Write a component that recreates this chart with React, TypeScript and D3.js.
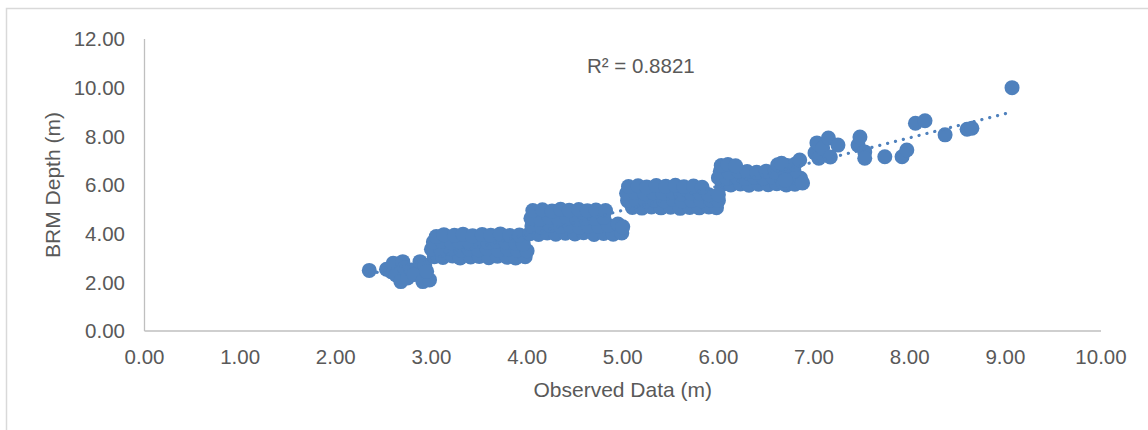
import React from 'react';
import * as d3 from 'd3';

const band2: [number, number][] = [
  [2.35, 2.49], [2.53, 2.54], [2.58, 2.44], [2.6, 2.78], [2.63, 2.3], [2.68, 2.03], [2.7, 2.85], [2.72, 2.6],
  [2.75, 2.18], [2.79, 2.51], [2.82, 2.32], [2.88, 2.85], [2.93, 2.71], [2.91, 2.03], [2.98, 2.1], [2.95, 2.45],
];
const band3: [number, number][] = [
  [3.03, 3.05], [3.12, 3.02], [3.22, 3.08], [3.3, 3.0], [3.41, 3.04], [3.5, 3.06], [3.6, 3.01], [3.69, 3.07], [3.79, 3.03], [3.88, 3.0], [3.98, 3.05],
  [3.0, 3.36], [3.1, 3.33], [3.2, 3.38], [3.31, 3.32], [3.39, 3.37], [3.49, 3.34], [3.58, 3.39], [3.7, 3.31], [3.8, 3.36], [3.9, 3.33], [4.0, 3.3],
  [3.02, 3.66], [3.11, 3.69], [3.21, 3.63], [3.29, 3.67], [3.4, 3.62], [3.51, 3.68], [3.59, 3.64], [3.68, 3.7], [3.78, 3.65], [3.88, 3.61], [3.96, 3.58],
  [3.05, 3.88], [3.13, 3.96], [3.24, 3.93], [3.33, 3.98], [3.43, 3.91], [3.53, 3.97], [3.62, 3.94], [3.72, 3.99], [3.82, 3.92], [3.92, 3.95],
];
const band4: [number, number][] = [
  [4.03, 4.0], [4.12, 3.97], [4.21, 4.03], [4.3, 3.98], [4.4, 4.02], [4.5, 3.99], [4.59, 4.04], [4.7, 3.97], [4.8, 4.01], [4.9, 3.98], [4.99, 4.03],
  [4.05, 4.31], [4.15, 4.28], [4.24, 4.34], [4.35, 4.29], [4.45, 4.33], [4.55, 4.27], [4.64, 4.32], [4.75, 4.3], [4.85, 4.35], [4.95, 4.4], [5.0, 4.28],
  [4.04, 4.63], [4.14, 4.6], [4.23, 4.66], [4.33, 4.61], [4.42, 4.65], [4.52, 4.59], [4.61, 4.64], [4.71, 4.62], [4.8, 4.67],
  [4.06, 4.95], [4.16, 4.98], [4.26, 4.93], [4.35, 5.0], [4.44, 4.96], [4.54, 4.99], [4.63, 4.94], [4.72, 4.97], [4.82, 4.95],
];
const band5: [number, number][] = [
  [5.1, 5.08], [5.2, 5.05], [5.3, 5.1], [5.4, 5.06], [5.5, 5.09], [5.6, 5.04], [5.7, 5.08], [5.8, 5.06], [5.9, 5.1], [5.98, 5.07],
  [5.05, 5.36], [5.14, 5.39], [5.24, 5.34], [5.33, 5.38], [5.43, 5.35], [5.53, 5.4], [5.62, 5.33], [5.72, 5.37], [5.82, 5.35], [5.92, 5.39], [6.0, 5.36],
  [5.04, 5.66], [5.13, 5.69], [5.23, 5.64], [5.32, 5.68], [5.42, 5.65], [5.52, 5.7], [5.61, 5.63], [5.71, 5.67], [5.81, 5.64], [5.9, 5.6],
  [5.06, 5.94], [5.16, 5.97], [5.25, 5.92], [5.35, 5.98], [5.45, 5.95], [5.55, 5.99], [5.64, 5.93], [5.74, 5.96], [5.83, 5.91],
];
const band6: [number, number][] = [
  [6.04, 6.02], [6.13, 6.0], [6.23, 6.04], [6.32, 5.99], [6.42, 6.03], [6.52, 6.01], [6.61, 6.05], [6.71, 6.0], [6.8, 6.03],
  [6.0, 6.3], [6.09, 6.28], [6.19, 6.33], [6.28, 6.27], [6.38, 6.31], [6.47, 6.29], [6.57, 6.32], [6.66, 6.26], [6.76, 6.3], [6.86, 6.28],
  [6.02, 6.56], [6.11, 6.53], [6.21, 6.58], [6.3, 6.55], [6.4, 6.52], [6.5, 6.57], [6.59, 6.54], [6.69, 6.58], [6.79, 6.55],
  [6.03, 6.8], [6.1, 6.84], [6.18, 6.79], [6.62, 6.83], [6.72, 6.8], [6.8, 6.85],
  [6.0, 5.6], [6.66, 6.89], [6.68, 6.07], [6.85, 7.03], [6.88, 6.08], [6.7, 6.2],
];
const bandHigh: [number, number][] = [
  [7.01, 7.32], [7.03, 7.73], [7.05, 7.1], [7.09, 7.52], [7.15, 7.93], [7.17, 7.15], [7.25, 7.64],
  [7.46, 7.64], [7.48, 7.97], [7.53, 7.36], [7.53, 7.1], [7.74, 7.16], [7.92, 7.16], [7.97, 7.44],
  [8.06, 8.54], [8.16, 8.64], [8.37, 8.06], [8.6, 8.29], [8.65, 8.33], [9.07, 10.0],
];

const xTicks = [0, 1, 2, 3, 4, 5, 6, 7, 8, 9, 10];
const yTicks = [0, 2, 4, 6, 8, 10, 12];
const r2Label = 'R² = 0.8821';

const W = 1148;
const H = 430;
const FONT = '"Liberation Sans", Arial, sans-serif';
const TEXT = '#595959';
const BLUE = '#4F81BD';

export default function App() {
  const points = [...band2, ...band3, ...band4, ...band5, ...band6, ...bandHigh];

  const x = d3.scaleLinear().domain([0, 10]).range([144.5, 1101]);
  const y = d3.scaleLinear().domain([0, 12]).range([331, 39]);
  const fmt = d3.format('.2f');

  // linear trendline, least squares
  const mx = d3.mean(points, d => d[0])!;
  const my = d3.mean(points, d => d[1])!;
  const sxy = d3.sum(points, d => (d[0] - mx) * (d[1] - my));
  const sxx = d3.sum(points, d => (d[0] - mx) ** 2);
  const slope = sxy / sxx;
  const icpt = my - slope * mx;
  const [x0, x1] = d3.extent(points, d => d[0]) as [number, number];
  const trend = d3.line<number>().x(v => x(v)).y(v => y(slope * v + icpt))([x0, x1]);

  return (
    <svg width={W} height={H} style={{ position: 'absolute', left: 0, top: 0, background: '#fff' }}>
      <rect x={6.5} y={8.5} width={1200} height={500} fill="none" stroke="#d9d9d9" strokeWidth={1.5} />

      <line x1={x(0)} x2={x(0)} y1={y(12)} y2={y(0)} stroke="#bfbfbf" strokeWidth={1.3} />
      <line x1={x(0)} x2={x(10)} y1={y(0)} y2={y(0)} stroke="#bfbfbf" strokeWidth={1.3} />

      {yTicks.map(t => (
        <text key={'y' + t} x={125} y={y(t)} dy="0.35em" textAnchor="end" fontFamily={FONT} fontSize={20.5} fill={TEXT}>
          {fmt(t)}
        </text>
      ))}
      {xTicks.map(t => (
        <text key={'x' + t} x={x(t)} y={357} dy="0.35em" textAnchor="middle" fontFamily={FONT} fontSize={20.5} fill={TEXT}>
          {fmt(t)}
        </text>
      ))}

      {points.map((p, i) => (
        <circle key={i} cx={x(p[0])} cy={y(p[1])} r={7.5} fill={BLUE} />
      ))}

      <path d={trend || ''} fill="none" stroke={BLUE} strokeWidth={3.2} strokeLinecap="round" strokeDasharray="0.1 8" />

      <text x={587} y={65.5} dy="0.35em" fontFamily={FONT} fontSize={20.5} fill={TEXT}>{r2Label}</text>

      <text x={(x(0) + x(10)) / 2} y={390} dy="0.35em" textAnchor="middle" fontFamily={FONT} fontSize={21} fill={TEXT}>
        Observed Data (m)
      </text>
      <text transform={`translate(53,${(y(0) + y(12)) / 2}) rotate(-90)`} dy="0.35em" textAnchor="middle" fontFamily={FONT} fontSize={21} fill={TEXT}>
        BRM Depth (m)
      </text>
    </svg>
  );
}
